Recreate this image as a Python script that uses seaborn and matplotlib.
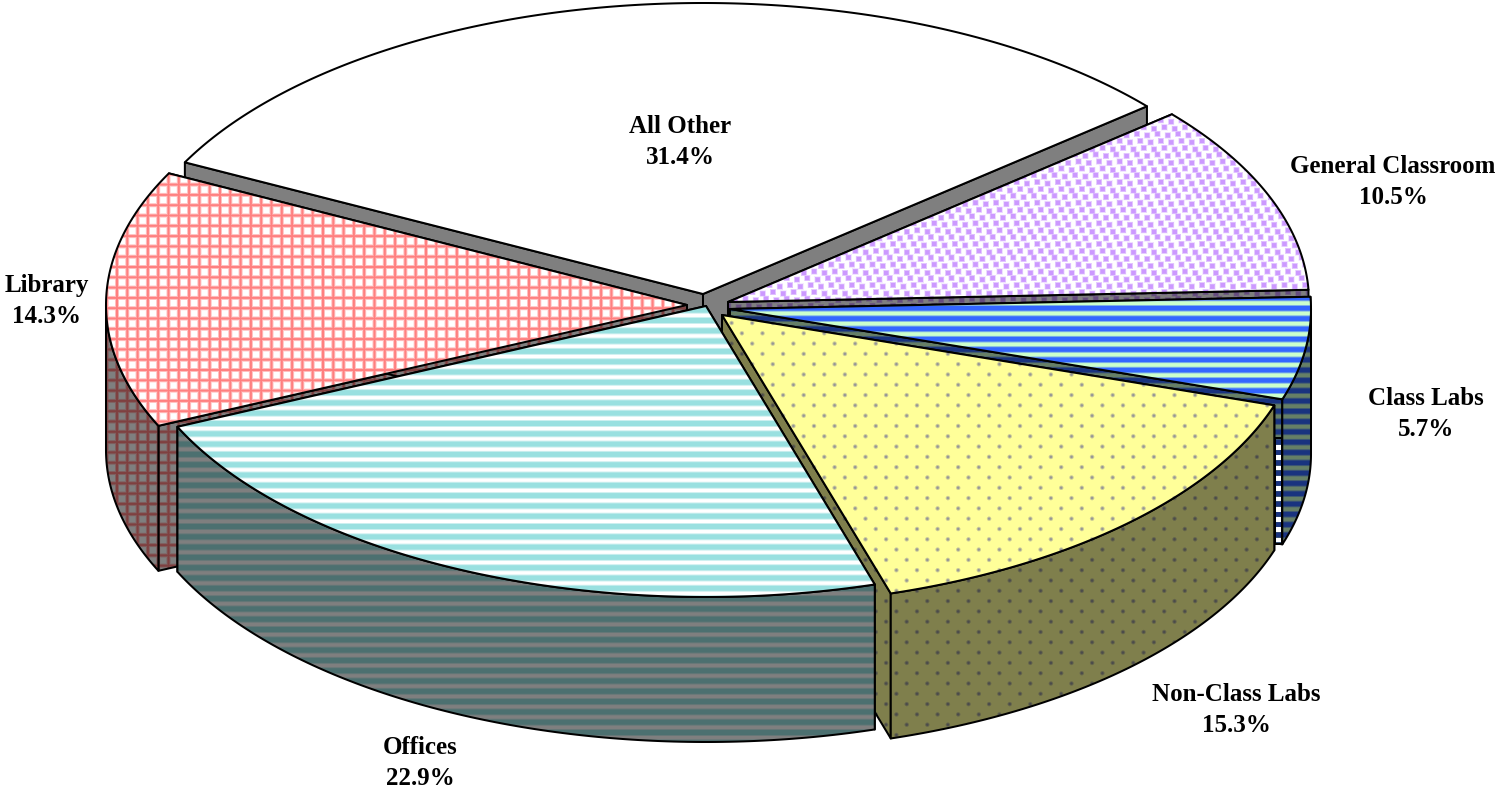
import numpy as np
import matplotlib
matplotlib.use("Agg")
import matplotlib.pyplot as plt
from matplotlib.patches import Polygon
import seaborn as sns

# data
categories = ["All Other", "General Classroom", "Class Labs", "Non-Class Labs", "Offices", "Library"]
shares = [31.4, 10.5, 5.7, 15.3, 22.9, 14.3]

# look of the pie
first_angle = -63.1
rx, ry, depth = 581, 291, 145
centre_x = [703, 728, 730, 722, 706, 687]
centre_y = [294, 302, 309, 315, 306, 305]
draw_order = [0, 1, 5, 2, 3, 4]
label_x = [680, 1393, 1426, 1236, 420, 47]
label_y = [142, 182, 414, 710, 763, 301]

sns.set_theme(style="white")
plt.rcParams["font.family"] = ["Liberation Serif", "DejaVu Serif"]

W, H = 1501, 792
P = 10.3
yy, xx = np.mgrid[0:H, 0:W] + 0.5


def band(v, v0, width, period=P, soft=2.0):
    d = (v - v0 + period / 2) % period - period / 2
    return np.clip((width / 2 - np.abs(d)) / soft + 0.5, 0, 1)


def dots(px, py, size, square=False, soft=2.0):
    period = 2 * P
    dx = (xx - px + period / 2) % period - period / 2
    dy = (yy - py + period / 2) % period - period / 2
    d = np.maximum(np.abs(dx), np.abs(dy)) if square else np.hypot(dx, dy)
    return np.clip((size - d) / soft + 0.5, 0, 1)


plain = np.zeros((H, W))
lavender = np.zeros((H, W))
for ox, oy in [(0, 0), (10.3, 1.5), (3.4, 7), (13.7, 8.5), (6.9, 14), (17.2, 15.5)]:
    lavender = np.maximum(lavender, dots(1013.3 + ox, 195.7 + oy, 2.6, square=True, soft=1.6))
teal = band(yy, 423.5, 6.0)
blue = band(yy, 308.3, 5.6)
yellow = np.maximum(dots(917, 426, 1.7), dots(906.7, 436.3, 1.7))
grid = np.maximum(band(xx, 312.7, 3.0), band(yy, 267, 3.0))

masks = [plain, lavender, blue, yellow, teal, grid]
backs = sns.color_palette(["#FFFFFF", "#FFFFFF", "#CCFFCC", "#FFFF99", "#FFFFFF", "#FFFFFF"])
fronts = sns.color_palette(["#FFFFFF", "#CC99FF", "#3366FF", "#969696", "#99E0E0", "#FF8080"])


def texture(i, shade=1.0):
    back, front = np.array(backs[i]), np.array(fronts[i])
    m = masks[i][..., None]
    return (back * (1 - m) + front * m) * shade


fig = plt.figure(figsize=(W / 100, H / 100), dpi=100)
ax = fig.add_axes([0, 0, 1, 1])
z = [1]


def paint(pts, tex):
    outline = Polygon(pts, closed=True, fc="none", ec="black", lw=1.45, joinstyle="round", zorder=z[0] + 1)
    ax.add_patch(outline)
    im = ax.imshow(tex, extent=(0, W, H, 0), aspect="auto", interpolation="nearest", zorder=z[0])
    im.set_clip_path(Polygon(pts, closed=True, transform=ax.transData))
    z[0] += 2


ends = first_angle + np.cumsum(shares) / np.sum(shares) * 360
starts = np.r_[first_angle, ends[:-1]]

for i in draw_order:
    a, b, cx, cy = starts[i], ends[i], centre_x[i], centre_y[i]
    wall = texture(i, 0.5)

    # the two cut faces
    for t in (a, b):
        ex = cx + rx * np.sin(np.radians(t))
        ey = cy - ry * np.cos(np.radians(t))
        face = [(cx, cy), (ex, ey), (ex, ey + depth), (cx, cy + depth)]
        paint(face, wall)
        if categories[i] == "Class Labs" and t == b:
            # white and blue strip seen beside the next slice
            strip = np.where(band(yy, 308.3, 5.6)[..., None] > 0.5, wall, 1.0)
            paint([(ex - 7, ey + 39), (ex, ey + 39), (ex, ey + depth), (ex - 7, ey + depth)], strip)

    # outer wall, front part only
    lo, hi = max(a, 90), min(b, 270)
    if lo < hi:
        th = np.radians(np.linspace(lo, hi, 120))
        ox = cx + rx * np.sin(th)
        oy = cy - ry * np.cos(th)
        outer = np.r_[np.c_[ox, oy], np.c_[ox, oy + depth][::-1]]
        paint(outer, wall)

    # top
    th = np.radians(np.linspace(a, b, 240))
    top = np.r_[[(cx, cy)], np.c_[cx + rx * np.sin(th), cy - ry * np.cos(th)]]
    paint(top, texture(i))

for name, share, x, y in zip(categories, shares, label_x, label_y):
    ax.text(x, y, f"{name}\n{share:.1f}%", ha="center", va="center", fontsize=18,
            fontweight="bold", color="black", linespacing=1.42, zorder=z[0] + 1)

ax.set_xlim(0, W)
ax.set_ylim(H, 0)
ax.axis("off")
fig.savefig("out.png", dpi=100, facecolor="white")
